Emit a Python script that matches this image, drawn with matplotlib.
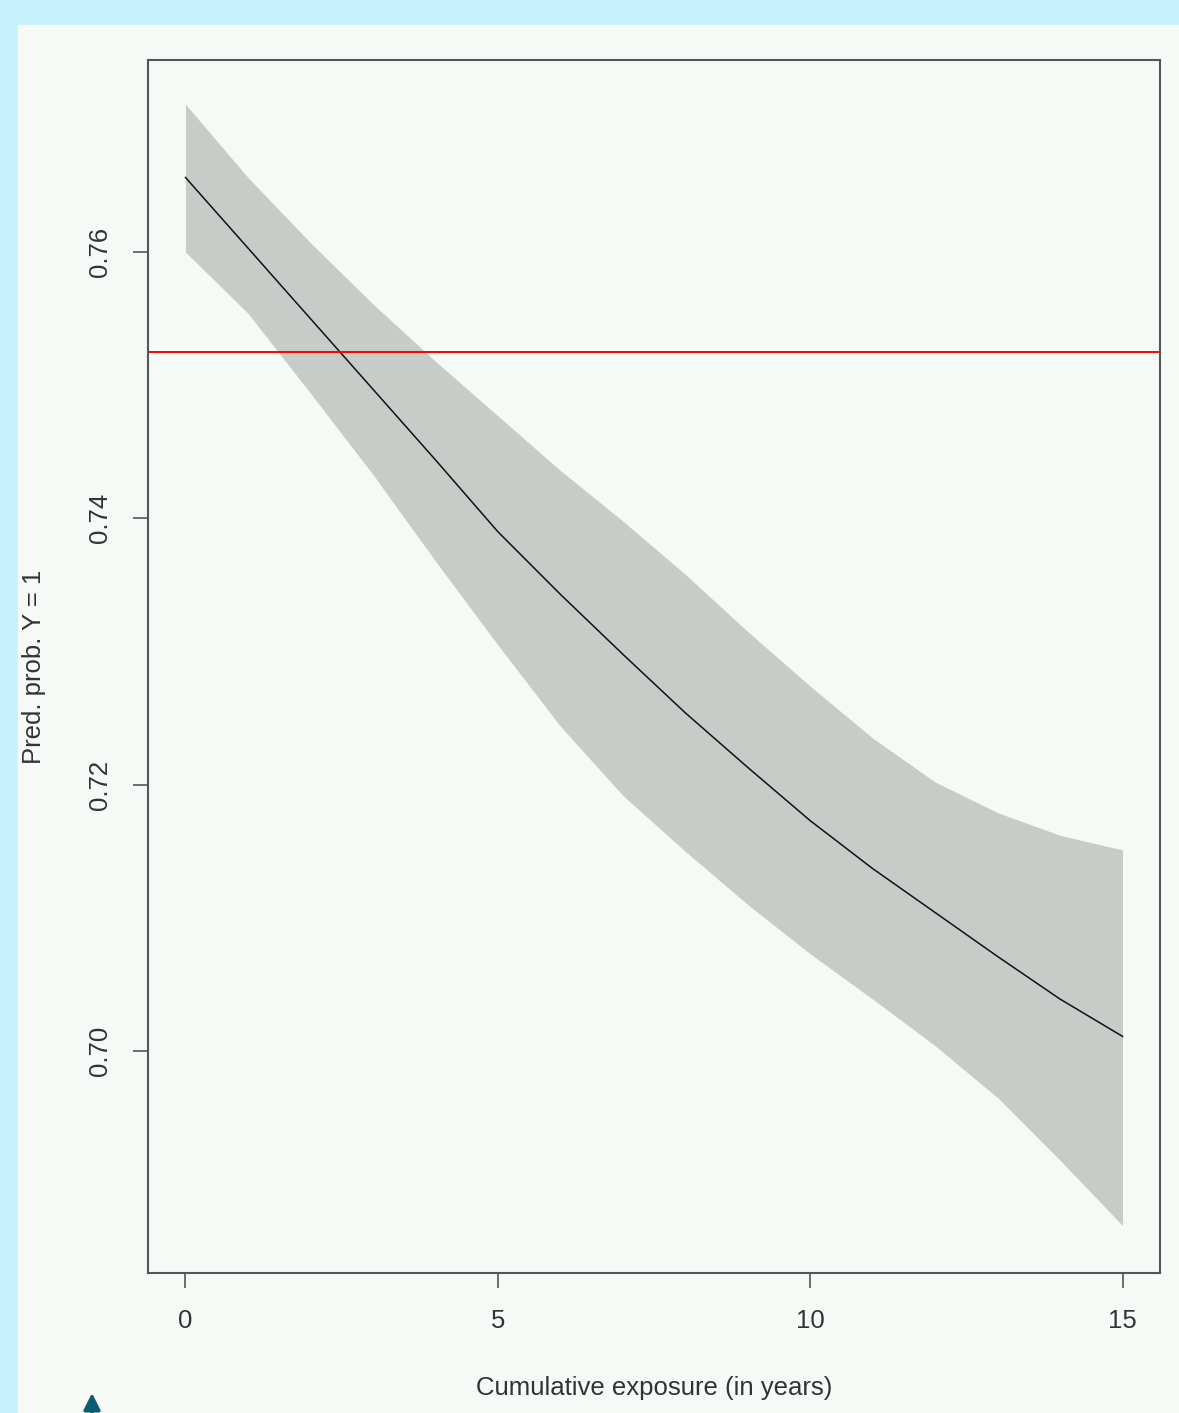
import matplotlib
matplotlib.use("Agg")
import matplotlib.pyplot as plt
from matplotlib.patches import Rectangle
import numpy as np

plt.rcParams['font.family'] = ['Liberation Sans', 'DejaVu Sans']

# cumulative exposure (years) and predicted probability with confidence band
exposure = [0, 1, 2, 3, 4, 5, 6, 7, 8, 9, 10, 11, 12, 13, 14, 15]
pred = [0.7656, 0.7603, 0.7550, 0.7497, 0.7444, 0.7390, 0.7343, 0.7298,
        0.7254, 0.7213, 0.7173, 0.7137, 0.7104, 0.7071, 0.7039, 0.7011]
upper = [0.7711, 0.7656, 0.7607, 0.7561, 0.7518, 0.7477, 0.7436, 0.7398,
         0.7358, 0.7315, 0.7274, 0.7235, 0.7202, 0.7179, 0.7162, 0.7151]
lower = [0.7600, 0.7554, 0.7494, 0.7433, 0.7368, 0.7305, 0.7244, 0.7192,
         0.7150, 0.7110, 0.7073, 0.7039, 0.7004, 0.6965, 0.6918, 0.6869]
ref_level = 0.7525

xticks = [0, 5, 10, 15]
yticks = [0.70, 0.72, 0.74, 0.76]

W, H = 1179, 1413
fig = plt.figure(figsize=(W / 100, H / 100), dpi=100, facecolor='#c6f2fe')
fig.patches.append(Rectangle((18 / W, 0), 1 - 18 / W, 1 - 25 / H,
                             transform=fig.transFigure, color='#f5faf7', zorder=-10))

ax = fig.add_axes([148 / W, 1 - 1273 / H, (1160 - 148) / W, (1273 - 60) / H])
ax.set_facecolor('#f5faf7')

ax.fill_between(exposure, lower, upper, color='#c8ccc9', linewidth=0)
ax.plot(exposure, pred, color='#111111', linewidth=1.1)
ax.axhline(ref_level, color='#ff0000', linewidth=1.4)

ax.set_xlim(-0.6, 15.6)
ax.set_ylim(0.68333, 0.77442)
ax.set_xticks(xticks)
ax.set_xticklabels([str(t) for t in xticks])
ax.set_yticks(yticks)
ax.set_yticklabels(["%.2f" % t for t in yticks], va='center')

for s in ax.spines.values():
    s.set_color('#555555')
    s.set_linewidth(1.5)

ax.tick_params(axis='both', direction='out', length=11, width=1.2,
               color='#555555', labelsize=18.5, labelcolor='#333333', pad=15)
ax.tick_params(axis='y', labelrotation=90)

ax.set_xlabel("Cumulative exposure (in years)", fontsize=18.5, color='#333333', labelpad=31)
ax.set_ylabel("Pred. prob. Y = 1", fontsize=18.5, color='#333333', labelpad=30)

# small arrow at the bottom-left corner
ax.annotate('', xy=(92, 20), xytext=(92, -10), xycoords='figure pixels',
            textcoords='figure pixels',
            arrowprops=dict(arrowstyle='-|>', color='#0b5c6e', lw=2.5,
                            mutation_scale=25, shrinkA=0, shrinkB=0))

fig.savefig("out.png", dpi=100, facecolor=fig.get_facecolor())
